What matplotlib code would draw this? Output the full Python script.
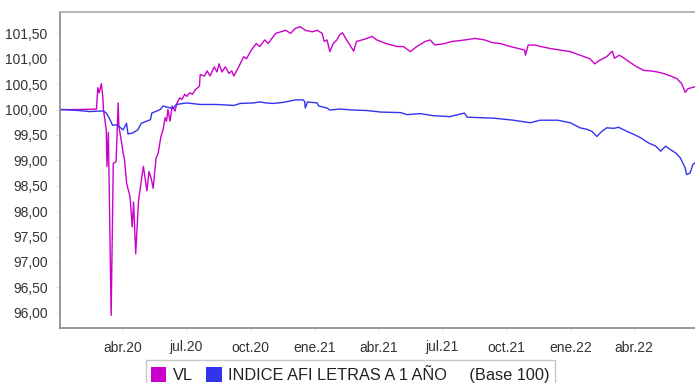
import matplotlib
matplotlib.use("Agg")
import matplotlib.pyplot as plt
import matplotlib.dates as mdates
from matplotlib.patches import Patch
from matplotlib.ticker import FuncFormatter
import pandas as pd

plt.rcParams['font.family'] = ['Liberation Sans', 'DejaVu Sans']

# ---------------- data ----------------
vl_dates = [
    "2020-01-03", "2020-01-31", "2020-02-24", "2020-02-26", "2020-02-28", "2020-03-02",
    "2020-03-03", "2020-03-04", "2020-03-05", "2020-03-09", "2020-03-10", "2020-03-12",
    "2020-03-16", "2020-03-19", "2020-03-23", "2020-03-26", "2020-03-27", "2020-03-31",
    "2020-04-02", "2020-04-04", "2020-04-07", "2020-04-12", "2020-04-15", "2020-04-17",
    "2020-04-20", "2020-04-24", "2020-04-29", "2020-05-01", "2020-05-06", "2020-05-09",
    "2020-05-12", "2020-05-15", "2020-05-19", "2020-05-22", "2020-05-26", "2020-05-29",
    "2020-06-01", "2020-06-03", "2020-06-05", "2020-06-08", "2020-06-11", "2020-06-15",
    "2020-06-18", "2020-06-22", "2020-06-25", "2020-06-29", "2020-07-02", "2020-07-06",
    "2020-07-10", "2020-07-14", "2020-07-20", "2020-07-21", "2020-07-27", "2020-07-31",
    "2020-08-04", "2020-08-10", "2020-08-14", "2020-08-17", "2020-08-21", "2020-08-26",
    "2020-08-31", "2020-09-04", "2020-09-07", "2020-09-14", "2020-09-21", "2020-09-25",
    "2020-10-02", "2020-10-09", "2020-10-14", "2020-10-21", "2020-10-26", "2020-11-02",
    "2020-11-06", "2020-11-13", "2020-11-20", "2020-11-27", "2020-12-04", "2020-12-11",
    "2020-12-18", "2020-12-28", "2021-01-04", "2021-01-11", "2021-01-14", "2021-01-18",
    "2021-01-22", "2021-01-27", "2021-02-01", "2021-02-05", "2021-02-09", "2021-02-15",
    "2021-02-25", "2021-03-01", "2021-03-09", "2021-03-16", "2021-03-23", "2021-03-30",
    "2021-04-12", "2021-04-28", "2021-05-07", "2021-05-17", "2021-05-26", "2021-06-07",
    "2021-06-14", "2021-06-21", "2021-07-05", "2021-07-15", "2021-07-27", "2021-08-03",
    "2021-08-17", "2021-08-31", "2021-09-10", "2021-09-22", "2021-10-04", "2021-10-18",
    "2021-10-27", "2021-10-28", "2021-11-01", "2021-11-11", "2021-11-19", "2021-12-03",
    "2021-12-17", "2021-12-31", "2022-01-14", "2022-01-28", "2022-02-04", "2022-02-11",
    "2022-02-21", "2022-03-01", "2022-03-04", "2022-03-11", "2022-03-18", "2022-03-25",
    "2022-04-05", "2022-04-15", "2022-04-25", "2022-05-04", "2022-05-13", "2022-05-23",
    "2022-06-01", "2022-06-08", "2022-06-13", "2022-06-17", "2022-06-27",
]
vl_values = [
    100.00, 100.00, 100.01, 100.43, 100.33, 100.51,
    100.39, 100.26, 100.00, 99.60, 98.88, 99.55,
    95.95, 98.94, 98.97, 100.13, 99.67, 99.34,
    99.15, 99.02, 98.55, 98.28, 97.69, 98.18,
    97.16, 98.20, 98.70, 98.88, 98.40, 98.78,
    98.65, 98.45, 99.04, 99.14, 99.47, 99.60,
    99.84, 99.77, 100.00, 99.77, 100.07, 99.97,
    100.13, 100.23, 100.20, 100.30, 100.26, 100.33,
    100.30, 100.39, 100.46, 100.69, 100.66, 100.76,
    100.66, 100.84, 100.74, 100.90, 100.74, 100.84,
    100.71, 100.76, 100.66, 100.84, 101.04, 101.00,
    101.17, 101.30, 101.24, 101.37, 101.30, 101.43,
    101.50, 101.53, 101.56, 101.50, 101.60, 101.63,
    101.56, 101.53, 101.56, 101.50, 101.34, 101.37,
    101.14, 101.30, 101.37, 101.47, 101.51, 101.37,
    101.15, 101.34, 101.37, 101.40, 101.44, 101.37,
    101.30, 101.24, 101.24, 101.14, 101.24, 101.34,
    101.37, 101.27, 101.30, 101.34, 101.36, 101.37,
    101.40, 101.37, 101.32, 101.30, 101.25, 101.20,
    101.17, 101.07, 101.27, 101.27, 101.24, 101.20,
    101.17, 101.14, 101.07, 101.00, 100.90, 100.97,
    101.04, 101.15, 101.01, 101.07, 101.01, 100.94,
    100.84, 100.77, 100.76, 100.74, 100.71, 100.66,
    100.61, 100.51, 100.34, 100.41, 100.45,
]

idx_dates = [
    "2020-01-03", "2020-01-31", "2020-02-14", "2020-02-28", "2020-03-05", "2020-03-09",
    "2020-03-13", "2020-03-18", "2020-03-23", "2020-03-27", "2020-04-02", "2020-04-07",
    "2020-04-09", "2020-04-16", "2020-04-23", "2020-04-28", "2020-05-11", "2020-05-13",
    "2020-05-25", "2020-05-29", "2020-06-03", "2020-06-12", "2020-06-17", "2020-07-02",
    "2020-07-21", "2020-08-14", "2020-09-07", "2020-09-16", "2020-10-05", "2020-10-14",
    "2020-10-23", "2020-11-02", "2020-11-16", "2020-12-04", "2020-12-15", "2020-12-17",
    "2020-12-18", "2020-12-21", "2021-01-04", "2021-01-06", "2021-01-18", "2021-01-22",
    "2021-02-05", "2021-02-25", "2021-03-16", "2021-04-05", "2021-05-03", "2021-05-12",
    "2021-05-31", "2021-06-18", "2021-07-12", "2021-08-02", "2021-08-06", "2021-09-13",
    "2021-10-11", "2021-11-04", "2021-11-18", "2021-12-13", "2021-12-31", "2022-01-14",
    "2022-01-24", "2022-01-31", "2022-02-07", "2022-02-14", "2022-02-21", "2022-03-03",
    "2022-03-10", "2022-03-22", "2022-04-01", "2022-04-11", "2022-04-22", "2022-05-02",
    "2022-05-09", "2022-05-16", "2022-05-23", "2022-05-30", "2022-06-06", "2022-06-13",
    "2022-06-15", "2022-06-20", "2022-06-24", "2022-06-27",
]
idx_values = [
    100.00, 99.98, 99.96, 99.97, 99.97, 99.93,
    99.84, 99.69, 99.70, 99.67, 99.60, 99.73,
    99.52, 99.54, 99.60, 99.73, 99.80, 99.93,
    100.00, 100.07, 100.05, 100.02, 100.10, 100.13,
    100.10, 100.10, 100.08, 100.12, 100.13, 100.15,
    100.13, 100.12, 100.14, 100.19, 100.19, 100.16,
    100.03, 100.15, 100.13, 100.07, 100.03, 99.99,
    100.01, 99.99, 99.98, 99.95, 99.94, 99.90,
    99.92, 99.88, 99.86, 99.93, 99.85, 99.83,
    99.79, 99.74, 99.79, 99.79, 99.74, 99.64,
    99.61, 99.57, 99.47, 99.57, 99.64, 99.63,
    99.65, 99.57, 99.51, 99.44, 99.34, 99.28,
    99.18, 99.28, 99.21, 99.15, 99.05, 98.85,
    98.72, 98.75, 98.92, 98.95,
]

series_labels = ["VL", "INDICE AFI LETRAS A 1 AÑO     (Base 100)"]
series_colors = ["#cc00cc", "#3333ee"]

tick_dates = ["2020-04-01", "2020-07-01", "2020-10-01", "2021-01-01", "2021-04-01",
              "2021-07-01", "2021-10-01", "2022-01-01", "2022-04-01"]
tick_labels = ["abr.20", "jul.20", "oct.20", "ene.21", "abr.21",
               "jul.21", "oct.21", "ene.22", "abr.22"]
y_ticks = [96.0, 96.5, 97.0, 97.5, 98.0, 98.5, 99.0, 99.5, 100.0, 100.5, 101.0, 101.5]

# ---------------- figure ----------------
W, H = 695, 383
fig = plt.figure(figsize=(W / 100, H / 100), dpi=100)
ax = fig.add_axes([60 / W, 1 - 328 / H, (W - 60) / W, (328 - 12) / H])

vd = pd.to_datetime(vl_dates)
idd = pd.to_datetime(idx_dates)
ax.plot(vd, vl_values, color=series_colors[0], lw=1.0)
ax.plot(idd, idx_values, color=series_colors[1], lw=1.0)

ax.set_xlim(vd[0], vd[-1])
ax.set_ylim(95.70, 101.92)

ax.set_yticks(y_ticks)
ax.yaxis.set_major_formatter(FuncFormatter(lambda v, p: f"{v:.2f}".replace(".", ",")))
ax.set_xticks(pd.to_datetime(tick_dates))
ax.set_xticklabels(tick_labels)

ax.tick_params(axis='both', labelsize=10, colors='#333333', length=3, width=0.6)
ax.tick_params(axis='x', pad=6, color='#dddddd')
ax.tick_params(axis='y', pad=6, color='#dddddd')

for s in ['left', 'bottom']:
    ax.spines[s].set_color('#888888')
    ax.spines[s].set_linewidth(1.2)
ax.spines['top'].set_color('#aaaaaa')
ax.spines['top'].set_linewidth(1.2)
ax.spines['right'].set_visible(False)

handles = [Patch(facecolor=c, edgecolor='none') for c in series_colors]
fig.legend(handles, series_labels, loc='upper left',
           bbox_to_anchor=(146 / W, 1 - 360 / H), bbox_transform=fig.transFigure,
           ncol=2, frameon=True, fancybox=False, edgecolor='#bbbbbb',
           fontsize=11.8, handlelength=0.95, handleheight=1.0, handletextpad=0.4,
           columnspacing=0.8, borderpad=0.3, borderaxespad=0, labelcolor='#222222')

fig.savefig("out.png", dpi=100)
